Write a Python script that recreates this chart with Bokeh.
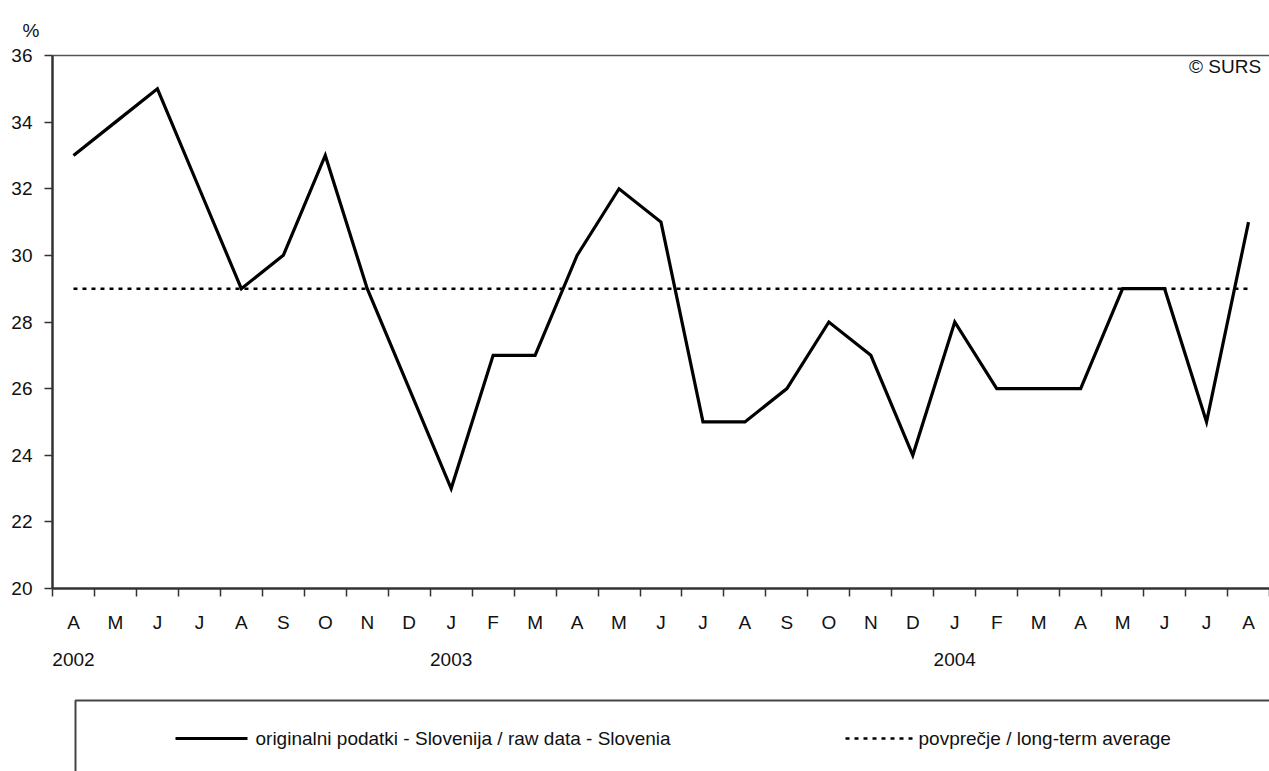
from bokeh.plotting import figure
from bokeh.models import Range1d, LinearAxis, FixedTicker, Label, Title
from bokeh.core.properties import value
from bokeh.layouts import column
from bokeh.embed import file_html
from bokeh.resources import INLINE

# ---- data ----
months = ["A", "M", "J", "J", "A", "S", "O", "N", "D", "J", "F", "M", "A", "M", "J",
          "J", "A", "S", "O", "N", "D", "J", "F", "M", "A", "M", "J", "J", "A"]
years = ["2002", "2003", "2004"]
year_month_index = [0, 9, 21]
raw_values = [33, 34, 35, 32, 29, 30, 33, 29, 26, 23, 27, 27, 30, 32, 31,
              25, 25, 26, 28, 27, 24, 28, 26, 26, 26, 29, 29, 25, 31]
long_term_average = 29
y_ticks = [20, 22, 24, 26, 28, 30, 32, 34, 36]
legend_labels = ["originalni podatki - Slovenija / raw data - Slovenia",
                 "povprečje / long-term average"]

FONT = "Liberation Sans"
FS = "19px"
TXT = "#111111"
AXIS_COLOR = "#333333"

n = len(months)
xc = [i + 0.5 for i in range(n)]

p = figure(width=1269, height=690, output_backend="svg", toolbar_location=None,
           x_range=Range1d(0, n), y_range=Range1d(20, 36),
           x_axis_location=None, y_axis_location=None)
p.min_border_left = 52
p.min_border_right = 0
p.min_border_top = 55
p.min_border_bottom = 102
p.outline_line_color = None
p.xgrid.visible = False
p.ygrid.visible = False

# "%" unit label as a left-aligned title
p.title = Title(text="%", align="left", offset=-30, standoff=30,
                text_font=FONT, text_font_size=FS, text_font_style="normal",
                text_color=TXT)

# y axis
yax = LinearAxis(ticker=FixedTicker(ticks=y_ticks, minor_ticks=[]))
yax.axis_line_color = AXIS_COLOR
yax.axis_line_width = 2.5
yax.major_tick_line_color = AXIS_COLOR
yax.major_tick_line_width = 1.5
yax.major_tick_in = 0
yax.major_tick_out = 8
yax.minor_tick_line_color = None
yax.major_label_standoff = 12
yax.major_label_text_font = FONT
yax.major_label_text_font_size = FS
yax.major_label_text_color = TXT
p.add_layout(yax, "left")

# x axis: months (labels at centres, ticks at boundaries)
xax = LinearAxis(ticker=FixedTicker(ticks=xc, minor_ticks=list(range(n + 1))))
xax.major_label_overrides = {v: m for v, m in zip(xc, months)}
xax.axis_line_color = AXIS_COLOR
xax.axis_line_width = 2.5
xax.major_tick_line_color = None
xax.major_tick_in = 0
xax.major_tick_out = 0
xax.minor_tick_line_color = AXIS_COLOR
xax.minor_tick_line_width = 1.5
xax.minor_tick_in = 0
xax.minor_tick_out = 8
xax.major_label_standoff = 15
xax.major_label_text_font = FONT
xax.major_label_text_font_size = FS
xax.major_label_text_color = TXT
p.add_layout(xax, "below")

# x axis: years
year_pos = [xc[i] for i in year_month_index]
yrax = LinearAxis(ticker=FixedTicker(ticks=year_pos, minor_ticks=[]))
yrax.major_label_overrides = {v: y for v, y in zip(year_pos, years)}
yrax.axis_line_color = None
yrax.major_tick_line_color = None
yrax.minor_tick_line_color = None
yrax.major_tick_in = 0
yrax.major_tick_out = 0
yrax.major_label_standoff = 17
yrax.major_label_text_font = FONT
yrax.major_label_text_font_size = FS
yrax.major_label_text_color = TXT
p.add_layout(yrax, "below")

# top border line
top = LinearAxis(ticker=FixedTicker(ticks=[], minor_ticks=[]))
top.axis_line_color = "#555555"
top.axis_line_width = 1.5
top.major_tick_line_color = None
top.minor_tick_line_color = None
top.major_label_text_font_size = "0px"
top.major_label_standoff = 0
top.major_tick_out = 0
top.major_tick_in = 0
p.add_layout(top, "above")

# series
p.line(x=[xc[0], xc[-1]], y=[long_term_average, long_term_average],
       line_color="black", line_width=2.5, line_dash="4 5")
p.line(x=xc, y=raw_values, line_color="black", line_width=3.2, line_join="miter")

p.add_layout(Label(x=28.8, y=35.67, text="© SURS", text_font=FONT, text_font_size=FS,
                   text_align="right", text_baseline="middle", text_color=TXT))

# ---- legend strip (data units = page pixels) ----
p2 = figure(width=1269, height=81, output_backend="svg", toolbar_location=None,
            x_range=Range1d(52, 1269), y_range=Range1d(771, 690),
            x_axis_location=None, y_axis_location=None)
p2.min_border_left = 52
p2.min_border_right = 0
p2.min_border_top = 0
p2.min_border_bottom = 0
p2.outline_line_color = None
p2.xgrid.visible = False
p2.ygrid.visible = False

# legend box (top and left edges visible)
p2.line(x=[75, 75, 1290], y=[800, 700, 700], line_color="#444444", line_width=2)
# legend samples and labels
p2.line(x=[175, 247], y=[738, 738], line_color="black", line_width=3.2)
p2.line(x=[845, 913], y=[738, 738], line_color="black", line_width=2.5, line_dash="4 5")
p2.text(x=[255, 918], y=[738, 738], text=legend_labels,
        text_font=value(FONT), text_font_size="19px", text_color=TXT,
        text_align="left", text_baseline="middle")

layout = column(p, p2, spacing=0)
open("out.html", "w").write(file_html(layout, INLINE))
